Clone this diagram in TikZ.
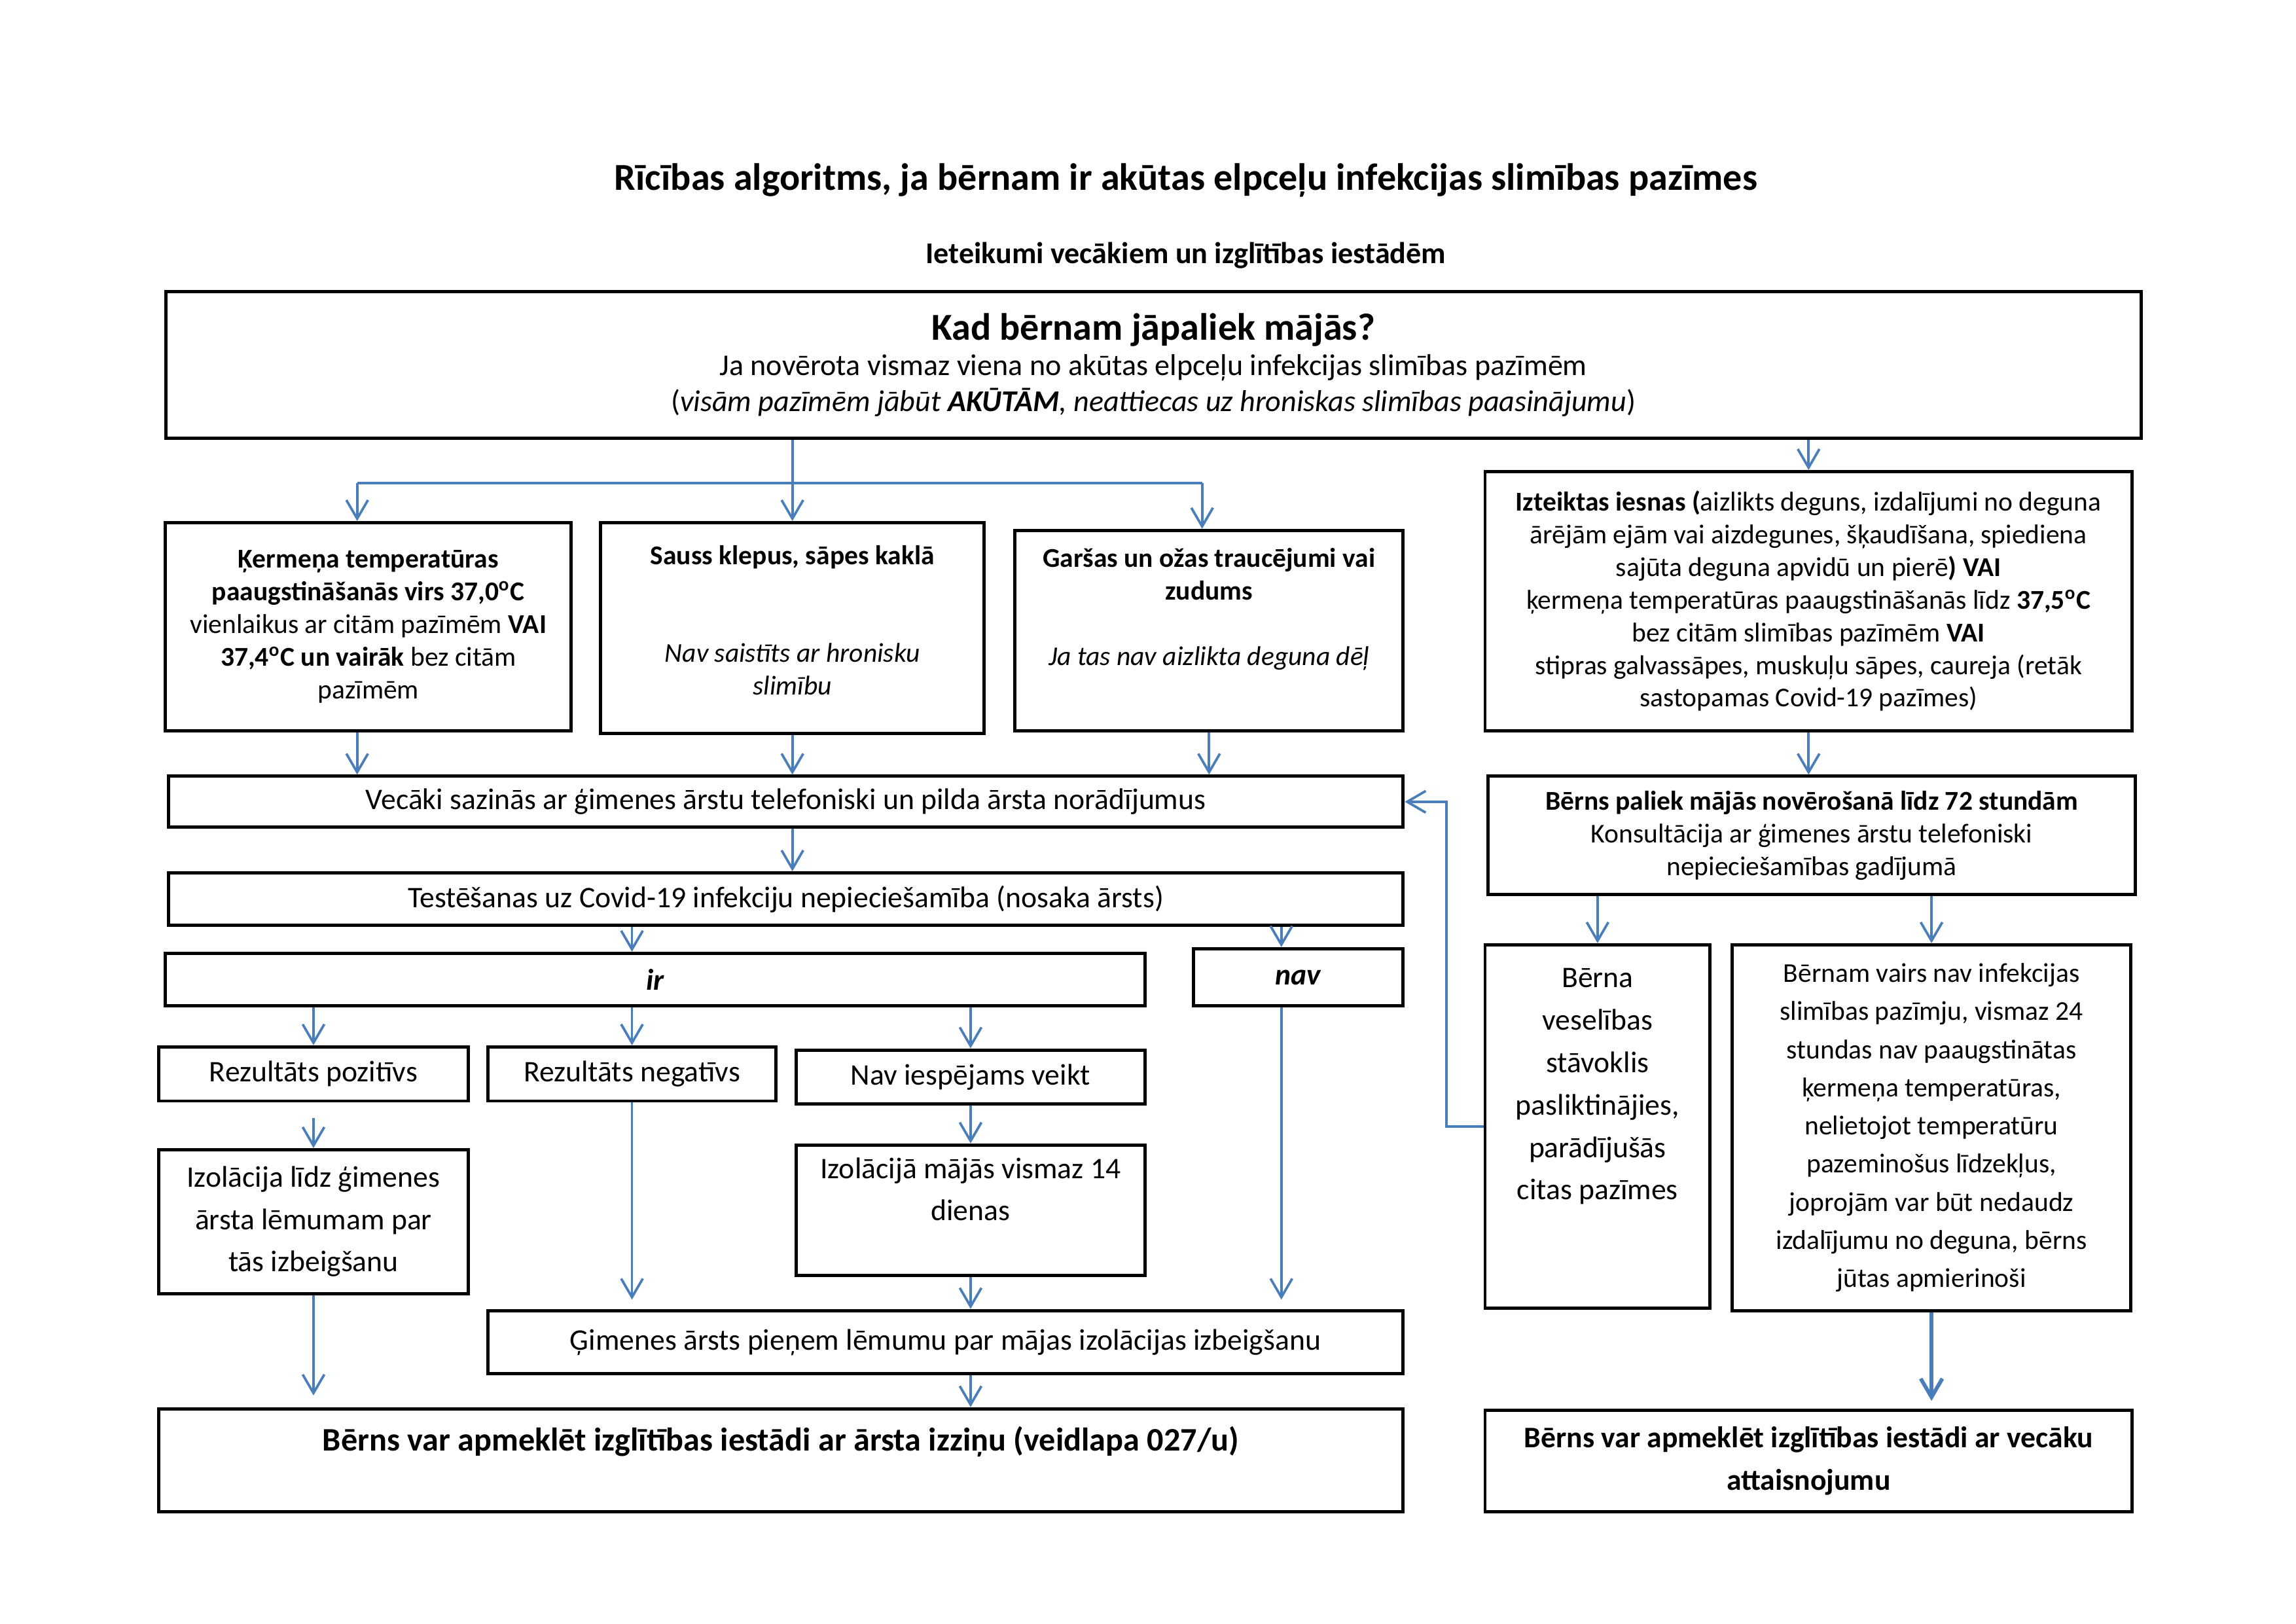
\documentclass[tikz,border=0pt]{standalone}
\usepackage{fontspec}
\setmainfont{Carlito}
\usetikzlibrary{arrows.meta}
\definecolor{arrowblue}{RGB}{74,126,187}
\tikzset{
  box/.style={draw,line width=1.2pt,align=center,inner sep=2pt},
  arr/.style={->,arrowblue,line width=0.9pt},
  link/.style={arrowblue,line width=0.9pt},
  txt/.style={font={\fontsize{11}{13.4}\selectfont}},
  wide/.style={font={\fontsize{11}{15.6}\selectfont}},
  mid/.style={font={\linespread{1.17}\selectfont}},
}

\begin{document}
\begin{tikzpicture}[x=1cm,y=1cm,>={Straight Barb[length=2.4mm,width=2.8mm]}]
\useasboundingbox (0,0) rectangle (29.7,-21);

% headings
\node[font=\fontsize{14}{17}\selectfont\bfseries] (title) at (15.34,-2.33) {Rīcības algoritms, ja bērnam ir akūtas elpceļu infekcijas slimības pazīmes};
\node[font=\fontsize{11.1}{13.4}\selectfont\bfseries] (sub) at (15.34,-3.30) {Ieteikumi vecākiem un izglītības iestādēm};

\node[box,font={\fontsize{11.1}{13.2}\selectfont},minimum width=25.55cm,minimum height=1.89cm] (top) at (14.92,-4.72)
  {{\fontsize{14}{16}\selectfont\bfseries Kad bērnam jāpaliek mājās?}\\
   Ja novērota vismaz viena no akūtas elpceļu infekcijas slimības pazīmēm\\
   (\textit{visām pazīmēm jābūt \textbf{AKŪTĀM}, neattiecas uz hroniskas slimības paasinājumu})};

% symptoms
\node[box,minimum width=5.25cm,minimum height=2.69cm] (A) at (4.765,-8.105)
  {\textbf{Ķermeņa temperatūras}\\
   \textbf{paaugstināšanās virs 37,0\textsuperscript{o}C}\\
   vienlaikus ar citām pazīmēm \textbf{VAI}\\
   \textbf{37,4\textsuperscript{o}C un vairāk} bez citām\\
   pazīmēm};
\node[box,minimum width=4.96cm,minimum height=2.73cm] (B) at (10.25,-8.125)
  {\textbf{Sauss klepus, sāpes kaklā}\\ \mbox{}\\ \mbox{}\\
   \textit{Nav saistīts ar hronisku}\\ \textit{slimību}\\[-6pt] \mbox{}};
\node[box,minimum width=5.02cm,minimum height=2.59cm] (C) at (15.64,-8.155)
  {\textbf{Garšas un ožas traucējumi vai}\\ \textbf{zudums}\\ \mbox{}\\
   \textit{Ja tas nav aizlikta deguna dēļ}\\ \mbox{}\\[-6.6pt] \mbox{}};
\node[box,minimum width=8.37cm,minimum height=3.35cm] (D) at (23.395,-7.775)
  {\textbf{Izteiktas iesnas (}aizlikts deguns, izdalījumi no deguna\\
   ārējām ejām vai aizdegunes, šķaudīšana, spiediena\\
   sajūta deguna apvidū un pierē\textbf{) VAI}\\
   ķermeņa temperatūras paaugstināšanās līdz \textbf{37,5\textsuperscript{o}C}\\
   bez citām slimības pazīmēm \textbf{VAI}\\
   stipras galvassāpes, muskuļu sāpes, caureja (retāk\\
   sastopamas Covid-19 pazīmes)};

% left branch
\node[box,txt,minimum width=15.97cm,minimum height=0.66cm] (parents) at (10.165,-10.37)
  {Vecāki sazinās ar ģimenes ārstu telefoniski un pilda ārsta norādījumus};
\node[box,txt,minimum width=15.97cm,minimum height=0.68cm] (test) at (10.165,-11.63)
  {Testēšanas uz Covid-19 infekciju nepieciešamība (nosaka ārsts)};
\node[box,txt,minimum width=12.67cm,minimum height=0.68cm] (ir) at (8.475,-12.67) {\textbf{\textit{ir}}};
\node[box,txt,minimum width=2.71cm,minimum height=0.74cm] (nav) at (16.795,-12.64) {\textbf{\textit{nav}}};
\node[box,txt,minimum width=4.01cm,minimum height=0.70cm] (pos) at (4.055,-13.89) {Rezultāts pozitīvs};
\node[box,txt,minimum width=3.73cm,minimum height=0.70cm] (neg) at (8.175,-13.89) {Rezultāts negatīvs};
\node[box,txt,minimum width=4.51cm,minimum height=0.70cm] (notest) at (12.555,-13.93) {Nav iespējams veikt};
\node[box,wide,minimum width=4.01cm,minimum height=1.86cm] (isoA) at (4.055,-15.80)
  {Izolācija līdz ģimenes\\ ārsta lēmumam par\\ tās izbeigšanu};
\node[box,wide,minimum width=4.51cm,minimum height=1.69cm] (iso14) at (12.555,-15.655)
  {Izolācijā mājās vismaz 14\\ dienas\\ \mbox{}};
\node[box,txt,minimum width=11.84cm,minimum height=0.82cm] (doctor) at (12.23,-17.36)
  {Ģimenes ārsts pieņem lēmumu par mājas izolācijas izbeigšanu};
\node[box,font={\fontsize{12.1}{15.6}\selectfont\bfseries},minimum width=16.10cm,minimum height=1.33cm] (finalL) at (10.10,-18.885)
  {Bērns var apmeklēt izglītības iestādi ar ārsta izziņu (veidlapa 027/u)\\ \mbox{}};

% right branch
\node[box,minimum width=8.37cm,minimum height=1.53cm] (E) at (23.435,-10.805)
  {\textbf{Bērns paliek mājās novērošanā līdz 72 stundām}\\
   Konsultācija ar ģimenes ārstu telefoniski\\ nepieciešamības gadījumā};
\node[box,wide,minimum width=2.91cm,minimum height=4.70cm] (F) at (20.665,-14.57)
  {Bērna\\ veselības\\ stāvoklis\\ pasliktinājies,\\ parādījušās\\ citas pazīmes\\ \mbox{}\\ \mbox{}};
\node[box,mid,minimum width=5.15cm,minimum height=4.73cm] (G) at (24.985,-14.585)
  {Bērnam vairs nav infekcijas\\ slimības pazīmju, vismaz 24\\ stundas nav paaugstinātas\\
   ķermeņa temperatūras,\\ nelietojot temperatūru\\ pazeminošus līdzekļus,\\
   joprojām var būt nedaudz\\ izdalījumu no deguna, bērns\\ jūtas apmierinoši};
\node[box,font={\fontsize{11}{15.6}\selectfont\bfseries},minimum width=8.37cm,minimum height=1.31cm] (finalR) at (23.395,-18.895)
  {Bērns var apmeklēt izglītības iestādi ar vecāku\\ attaisnojumu};

% connectors
\coordinate (brL) at (4.62,-6.25);
\coordinate (brR) at (15.55,-6.25);
\coordinate (navIn) at ([xshift=-2.2mm]nav.north);
\coordinate (fb) at (18.71,-10.37);
\draw[link] (brL) -- (brR);
\draw[arr] (top.south -| B.north) -- (B.north);
\draw[arr] (brL) -- (brL |- A.north);
\draw[arr] (brR) -- (brR |- C.north);
\draw[arr] (top.south -| D.north) -- (D.north);

\draw[arr] (brL |- A.south) -- (brL |- parents.north);
\draw[arr] (B.south) -- (B.south |- parents.north);
\draw[arr] (C.south) -- (C.south |- parents.north);
\draw[arr] (D.south) -- (D.south |- E.north);

\draw[arr] (B.south |- parents.south) -- (B.south |- test.north);
\draw[arr] (neg.north |- test.south) -- (neg.north |- ir.north);
\draw[arr] (navIn |- test.south) -- (navIn);
\draw[arr] (pos.north |- ir.south) -- (pos.north);
\draw[arr] (neg.north |- ir.south) -- (neg.north);
\draw[arr] (notest.north |- ir.south) -- (notest.north);
\draw[arr] ([yshift=-2mm]pos.south) -- (isoA.north);
\draw[arr] (notest.south) -- (iso14.north);
\draw[arr,shorten >=1.2mm] (neg.south) -- (neg.south |- doctor.north);
\draw[arr] (iso14.south) -- (iso14.south |- doctor.north);
\draw[arr,shorten >=1.2mm] (navIn |- nav.south) -- (navIn |- doctor.north);
\draw[arr,shorten >=1.5mm] (isoA.south) -- (isoA.south |- finalL.north);
\draw[arr] (iso14.south |- doctor.south) -- (iso14.south |- finalL.north);

\draw[arr] (F.north |- E.south) -- (F.north);
\draw[arr] (G.north |- E.south) -- (G.north);
\draw[arr,line width=1.4pt,shorten >=1mm] (G.south) -- (G.south |- finalR.north);
\draw[arr] (F.west) -| (fb) -- (parents.east);
\end{tikzpicture}
\end{document}
